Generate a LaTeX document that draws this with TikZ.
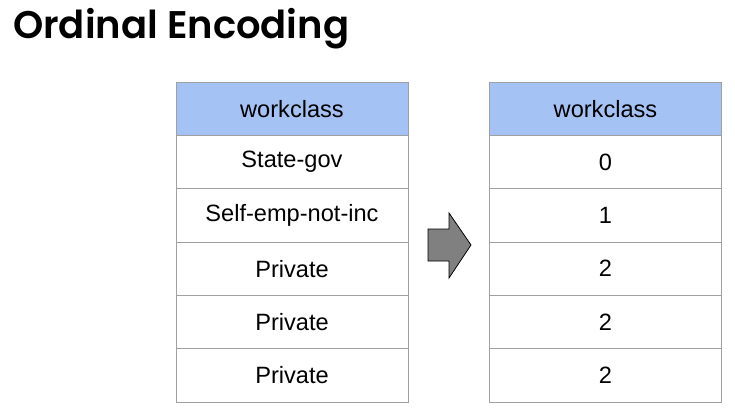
\documentclass[tikz,border=0pt]{standalone}
\usepackage{fontspec}
\setmainfont{Liberation Sans}
\newfontfamily\titlefont{Poppins SemiBold}
\definecolor{hdrblue}{HTML}{A4C2F4}
\definecolor{gridgray}{HTML}{A0A0A0}
\definecolor{arrowgray}{HTML}{808080}
\begin{document}
\begin{tikzpicture}[x=1pt,y=-1pt,
  cell/.style={draw=gridgray, line width=1pt, rectangle, minimum width=232pt, minimum height=53.33pt, inner sep=0pt, font=\fontsize{23.6}{28}\selectfont, text=black},
  hdr/.style={cell, fill=hdrblue},
  titlestyle/.style={font=\titlefont\fontsize{38.5}{46}\selectfont, inner sep=0pt, anchor=base west}]
\useasboundingbox (0,0) rectangle (735,416);
\fill[white] (0,0) rectangle (735,416);
\node[titlestyle] (title) at (13,38.5) {Ordinal Encoding};
% left table
\node[hdr]  (L0) at (292,108.67) {workclass};
\node[cell] (L1) at (292,162) {State-gov};
\node[cell] (L2) at (292,215.33) {Self-emp-not-inc};
\node[cell] (L3) at (292,268.67) {Private};
\node[cell] (L4) at (292,322) {Private};
\node[cell] (L5) at (292,375.33) {Private};
% right table
\node[hdr]  (R0) at (605.5,108.67) {workclass};
\node[cell] (R1) at (605.5,162) {0};
\node[cell] (R2) at (605.5,215.33) {1};
\node[cell] (R3) at (605.5,268.67) {2};
\node[cell] (R4) at (605.5,322) {2};
\node[cell] (R5) at (605.5,375.33) {2};
% arrow
\draw[fill=arrowgray, draw=black, line width=0.8pt, line join=miter]
  (428,229) -- (449,229) -- (449,213) -- (471,245) -- (449,278) -- (449,261) -- (428,261) -- cycle;
\end{tikzpicture}
\end{document}
